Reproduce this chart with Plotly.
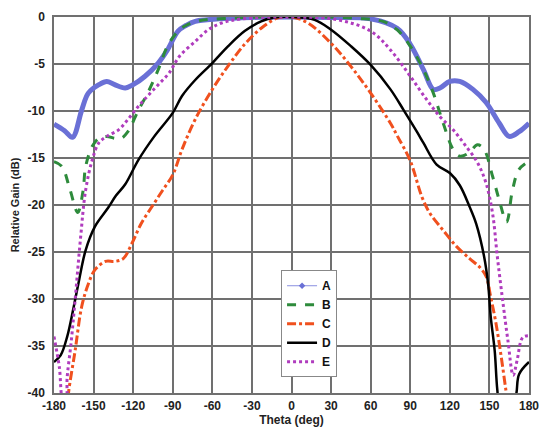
import plotly.graph_objects as go

# ---- data ----
a_theta = [-180, -172, -166, -159, -154, -146, -140, -134, -126, -120, -111, -101, -94, -86, -80, -73, -55, -30, 0,
           30, 60, 80, 90, 100, 107.5, 112.5, 120, 127.5, 137.5, 147.5, 157.5, 165, 172.5, 180]
a_gain = [-11.4, -12.1, -12.8, -9.9, -8.1, -7.2, -6.85, -7.2, -7.55, -7.2, -6.3, -4.9, -3.5, -1.5, -0.9, -0.46, -0.2, -0.05, 0,
          -0.05, -0.2, -1.2, -2.9, -5.6, -7.7, -7.55, -6.85, -6.85, -7.7, -9.1, -11.3, -12.7, -12.2, -11.3]

b_theta = [-180, -174, -168, -162, -158, -156, -151, -146, -140, -134, -129, -124, -116, -109, -101, -94, -86, -80, -70, -50,
           -20, 0, 20, 50, 70, 80, 90, 100, 107.5, 115, 122.5, 127.5, 134, 141, 146, 152.5, 157.5, 163, 167.5, 172.5, 180]
b_gain = [-15.4, -15.9, -18.3, -20.8, -18.5, -15.9, -13.75, -12.9, -12.7, -12.9, -12.9, -12.2, -9.9, -8.1, -5.6, -3.1, -1.5, -0.9, -0.4, -0.15,
          0, 0, 0, -0.15, -0.5, -1.35, -3.1, -5.6, -8.1, -11.3, -14.1, -14.8, -14.5, -13.6, -14.1, -17, -19.5, -21.8, -18.4, -16.2, -15.35]

c_theta = [-180, -170, -169, -164, -159, -154, -149, -141, -134, -127.5, -121, -114, -104, -97.5, -90, -83, -73, -60, -48, -35.5,
           -23, -10.5, 0, 12.5, 30, 45, 60, 75, 80, 90, 99, 105, 115, 125, 135, 142.5, 147.5, 151, 155, 159, 162.5, 165, 180]
c_gain = [-46, -42, -40, -35.5, -30.8, -28.4, -26.9, -26, -26, -25.7, -24.1, -22, -19.8, -18.4, -16.8, -14.1, -10.9, -7.7, -5.2, -2.9,
          -1.2, -0.1, 0, -0.64, -2.8, -5.25, -8.1, -11.3, -12.6, -15.3, -19.2, -20.9, -22.7, -24.4, -25.7, -26.6, -27.6, -29.8, -32.6, -36.2, -39.7, -42, -46]

d_theta = [-180, -175, -170, -165, -161, -156, -149, -139, -133, -126, -116, -104, -90, -83, -73, -60, -48, -35.5, -23, -13, 0,
           17.5, 30, 45, 60, 75, 85, 95, 100, 110, 120, 127.5, 135, 140, 146, 149, 151, 154, 156, 160, 166, 170.5, 172.5, 180]
d_gain = [-36.7, -36, -34, -30.8, -28, -24.8, -22.3, -20.3, -19.0, -17.8, -15.2, -12.7, -10.2, -8.4, -6.7, -4.9, -3.1, -1.5, -0.46, -0.05, 0,
          -0.3, -1.35, -3.1, -5.1, -7.7, -9.9, -12.2, -13.4, -15.7, -16.6, -17.9, -20.2, -22, -25.5, -28.4, -31.9, -35.5, -39.7, -44, -44, -40, -38, -36.7]

e_theta = [-180, -176, -173, -171, -170, -167, -164, -160, -156, -151, -146, -140, -131, -124, -116, -109, -101, -93, -85, -73,
           -63, -53, -38, 0, 35, 60, 75, 90, 102.5, 112.5, 122.5, 132.5, 141, 147.5, 152.5, 156, 160, 164, 168, 171, 174, 176, 180]
e_gain = [-34, -37.2, -41, -41, -38.3, -34.6, -30.1, -23.7, -18.4, -15.2, -13.4, -12.7, -12, -10.9, -9.5, -8.4, -7.2, -6.0, -4.2, -2.6,
          -1.35, -0.64, -0.2, 0, -0.3, -1.5, -3.5, -6.3, -8.8, -10.6, -12, -13.8, -15.5, -17.7, -21, -25.5, -30.1, -34.4, -38.1, -36.5, -34.4, -34, -33.9]

x_ticks = [-180, -150, -120, -90, -60, -30, 0, 30, 60, 90, 120, 150, 180]
x_labels = ["-180", "-150", "-120", "-90", "-60", "-30", "0", "30", "60", "90", "120", "150", "180"]
y_ticks = [0, -5, -10, -15, -20, -25, -30, -35, -40]
y_labels = ["0", "-5", "-10", "-15", "-20", "-25", "-30", "-35", "-40"]

fig = go.Figure()

# A: dense marker band drawn as a thick line, with a legend-only sample
fig.add_trace(go.Scatter(x=a_theta, y=a_gain, mode="lines", line=dict(color="#6a70d6", width=5, shape="spline"),
                         showlegend=False, name="A"))
fig.add_trace(go.Scatter(x=[None], y=[None], mode="lines+markers", name="A",
                         line=dict(color="#8a8fe0", width=1),
                         marker=dict(symbol="diamond", size=5, color="#6a70d6")))
fig.add_trace(go.Scatter(x=b_theta, y=b_gain, mode="lines", name="B",
                         line=dict(color="#2e8b3c", width=3, dash="dash", shape="spline")))
fig.add_trace(go.Scatter(x=c_theta, y=c_gain, mode="lines", name="C",
                         line=dict(color="#f0501e", width=3, dash="dashdot", shape="spline")))
fig.add_trace(go.Scatter(x=d_theta, y=d_gain, mode="lines", name="D",
                         line=dict(color="#000000", width=2.5, shape="spline")))
fig.add_trace(go.Scatter(x=e_theta, y=e_gain, mode="lines", name="E",
                         line=dict(color="#b03cbe", width=3, dash="dot", shape="spline")))

grid = "#707070"
fig.update_layout(
    width=539, height=428,
    margin=dict(l=54, r=10, t=17, b=35),
    paper_bgcolor="white", plot_bgcolor="white",
    font=dict(family="Liberation Sans, Arial, sans-serif", color="#222222", size=12, weight="bold"),
    showlegend=True,
    legend=dict(x=0.478, y=0.3265, xanchor="left", yanchor="top",
                bgcolor="white", bordercolor="#888888", borderwidth=1,
                font=dict(size=12, color="#111111", weight="bold"),
                itemwidth=30, tracegroupgap=0),
    xaxis=dict(range=[-180, 180], tickvals=x_ticks, ticktext=x_labels, automargin=False,
               showgrid=True, gridcolor=grid, gridwidth=1.5, zeroline=False,
               showline=True, linecolor=grid, linewidth=1.5, mirror=True,
               title=dict(text="Theta (deg)", standoff=2, font=dict(size=12, weight="bold")),
               ticks="", ticklen=0, ticklabelstandoff=1, ticklabeloverflow="allow"),
    yaxis=dict(range=[-40, 0], tickvals=y_ticks, ticktext=y_labels, automargin=False,
               showgrid=True, gridcolor=grid, gridwidth=1.5, zeroline=False,
               showline=True, linecolor=grid, linewidth=1.5, mirror=True,
               title=dict(text="Relative Gain (dB)", standoff=6, font=dict(size=11, weight="bold")),
               ticks="", ticklen=0, ticklabelstandoff=5, ticklabeloverflow="allow"),
)

fig.write_html("out.html", config={"displayModeBar": False},
               post_script="document.body.style.margin='0px';")
